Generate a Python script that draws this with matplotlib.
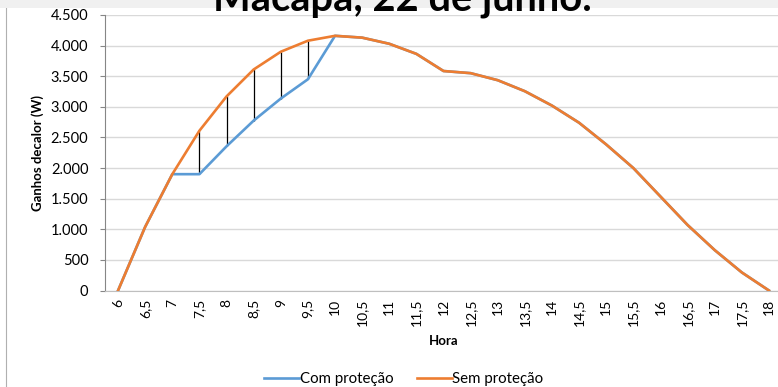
import numpy as np
import matplotlib.pyplot as plt
from matplotlib.patches import Rectangle
from matplotlib.lines import Line2D

plt.rcParams['font.family'] = ['Lato', 'DejaVu Sans']

# Hora do dia (rótulos de categoria)
horas = ["6", "6,5", "7", "7,5", "8", "8,5", "9", "9,5", "10", "10,5", "11",
         "11,5", "12", "12,5", "13", "13,5", "14", "14,5", "15", "15,5", "16",
         "16,5", "17", "17,5", "18"]

# Ganhos de calor (W)
sem_protecao = [0, 1040, 1900, 2610, 3170, 3610, 3900, 4080, 4160, 4130, 4030,
                3865, 3585, 3550, 3435, 3255, 3020, 2740, 2385, 2000, 1535,
                1070, 660, 295, 0]
com_protecao = [0, 1040, 1900, 1900, 2355, 2775, 3135, 3450, 4160, 4130, 4030,
                3865, 3585, 3550, 3435, 3255, 3020, 2740, 2385, 2000, 1535,
                1070, 660, 295, 0]

titulo = "Macapá, 22 de junho."
y_ticks = [0, 500, 1000, 1500, 2000, 2500, 3000, 3500, 4000, 4500]

AZUL = "#5b9bd5"
LARANJA = "#ed7d31"
GRADE = "#d9d9d9"

W, H = 778, 387
fig = plt.figure(figsize=(W / 100, H / 100), dpi=100)

# faixa cinza no topo e borda à esquerda
fig.patches.append(Rectangle((0, 1 - 8 / H), 1, 8 / H, transform=fig.transFigure,
                             facecolor="#f0f0f0", edgecolor="none", zorder=-1))
fig.lines.append(Line2D([5.5 / W, 5.5 / W], [0, 1 - 8 / H], transform=fig.transFigure,
                        color="#b0b0b0", lw=0.8, zorder=-1))

ax = fig.add_axes([104.5 / W, (H - 290.5) / H, 678 / W, 275.5 / H])

x = np.arange(len(horas))
ax.plot(x, com_protecao, color=AZUL, lw=1.9, zorder=3, label="Com proteção")
ax.plot(x, sem_protecao, color=LARANJA, lw=1.9, zorder=4, label="Sem proteção")

# linhas de máximo-mínimo entre as duas séries
c = np.array(com_protecao)
s = np.array(sem_protecao)
dif = np.abs(s - c) > 0
ax.vlines(x[dif], c[dif], s[dif], color="black", lw=0.9, zorder=2)

ax.set_xlim(-0.5, len(horas) - 0.5)
ax.set_ylim(0, 4500)
ax.set_yticks(y_ticks)
ax.set_yticklabels([f"{v:,}".replace(",", ".") for v in y_ticks])
ax.set_xticks(x)
ax.set_xticklabels(horas, rotation=90)

ax.grid(axis="y", color=GRADE, lw=1)
ax.set_axisbelow(True)
for lado in ("top", "right"):
    ax.spines[lado].set_visible(False)
ax.spines["left"].set_color("#868686")
ax.spines["bottom"].set_color("#bfbfbf")
ax.tick_params(axis="y", length=3.6, color="#868686", labelsize=10.5, pad=8)
ax.tick_params(axis="x", length=0, labelsize=10, pad=6)

ax.set_xlabel("Hora", fontsize=9.5, fontweight="bold", labelpad=6)
ax.set_ylabel("Ganhos decalor (W)", fontsize=9.5, fontweight="bold", labelpad=5)

fig.text(402.5 / W, 1 - 11 / H, titulo, ha="center", va="baseline",
         fontsize=28.7, fontweight="bold")

fig.legend(loc="center", bbox_to_anchor=(404 / W, 1 - 379 / H), ncol=2,
           frameon=False, fontsize=10.8, handlelength=2.3, handletextpad=0.05,
           columnspacing=1.6)

fig.savefig("out.png", dpi=100)
